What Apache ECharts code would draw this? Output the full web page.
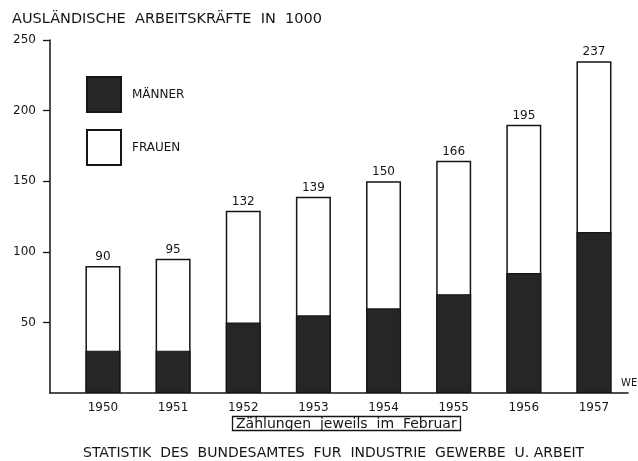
<!DOCTYPE html>
<html>
<head>
<meta charset="utf-8">
<script src="https://cdn.jsdelivr.net/npm/echarts@6/dist/echarts.min.js"></script>
<style>html,body{margin:0;padding:0;background:#fff;}#c{width:638px;height:461px;}</style>
</head>
<body>
<div id="c"></div>
<script>
const years = [1950, 1951, 1952, 1953, 1954, 1955, 1956, 1957];
const maenner = [30, 30, 50, 55, 60, 70, 85, 114];
const frauen = [60, 65, 79, 84, 90, 94.5, 105, 121];
const totalLabels = ['90', '95', '132', '139', '150', '166', '195', '237'];
const yTicks = [50, 100, 150, 200, 250];

const FONT = 'DejaVu Sans';
const INK = '#151515';

// Frauen bar is drawn from the baseline to the top of the stack (Männer + Frauen),
// Männer bar drawn in front of it.
const stackTop = years.map((y, i) => [y, maenner[i] + frauen[i]]);

const chart = echarts.init(document.getElementById('c'), null, {renderer: 'canvas'});
chart.setOption({
  backgroundColor: '#fff',
  animation: false,
  title: [
    {text: 'AUSLÄNDISCHE  ARBEITSKRÄFTE  IN  1000', left: 7, top: 7,
     textStyle: {fontFamily: FONT, fontSize: 14.5, fontWeight: 'normal', color: INK}},
    {text: 'Zählungen  jeweils  im  Februar', left: 232, top: 416, padding: [1, 4, 0, 4],
     borderColor: INK, borderWidth: 1.3,
     textStyle: {fontFamily: FONT, fontSize: 14, fontWeight: 'normal', color: INK}},
    {text: 'STATISTIK  DES  BUNDESAMTES  FUR  INDUSTRIE  GEWERBE  U. ARBEIT', left: 78, top: 441,
     textStyle: {fontFamily: FONT, fontSize: 14, fontWeight: 'normal', color: INK}}
  ],
  legend: {
    orient: 'vertical', left: 86, top: 76, padding: 0, itemWidth: 34, itemHeight: 35, itemGap: 16,
    icon: 'rect',
    textStyle: {fontFamily: FONT, fontSize: 12, color: INK, padding: [0, 0, 0, 6]},
    data: ['MÄNNER', 'FRAUEN']
  },
  grid: {left: 50, right: 10, top: 40, bottom: 68, containLabel: false},
  xAxis: {
    type: 'value', min: 1949.245, max: 1957.485,
    axisLine: {show: true, lineStyle: {color: INK, width: 1.5}},
    axisTick: {show: false},
    splitLine: {show: false},
    axisLabel: {customValues: years, margin: 9, fontFamily: FONT, fontSize: 12, color: INK,
      formatter: v => String(v)}
  },
  yAxis: {
    type: 'value', min: 0, max: 250, interval: 50,
    axisLine: {show: true, lineStyle: {color: INK, width: 1.5}},
    axisTick: {show: true, length: 7, lineStyle: {color: INK, width: 1.3}, customValues: yTicks},
    splitLine: {show: false},
    axisLabel: {customValues: yTicks, margin: 14, fontFamily: FONT, fontSize: 12, color: INK}
  },
  series: [
    {name: 'FRAUEN', type: 'bar', barWidth: 35, barGap: '-100%', z: 2,
     itemStyle: {color: '#fff', borderColor: INK, borderWidth: 1.5},
     label: {show: true, position: 'top', distance: 3, fontFamily: FONT, fontSize: 12, color: INK,
       formatter: p => totalLabels[p.dataIndex]},
     data: stackTop},
    {name: 'MÄNNER', type: 'bar', barWidth: 35, barGap: '-100%', z: 3,
     itemStyle: {color: '#262626', borderColor: INK, borderWidth: 1.2},
     data: years.map((y, i) => [y, maenner[i]])}
  ],
  graphic: [
    {type: 'text', left: 621, top: 378, style: {text: 'WE', font: '10px DejaVu Sans', fill: INK}}
  ]
});
</script>
</body>
</html>
